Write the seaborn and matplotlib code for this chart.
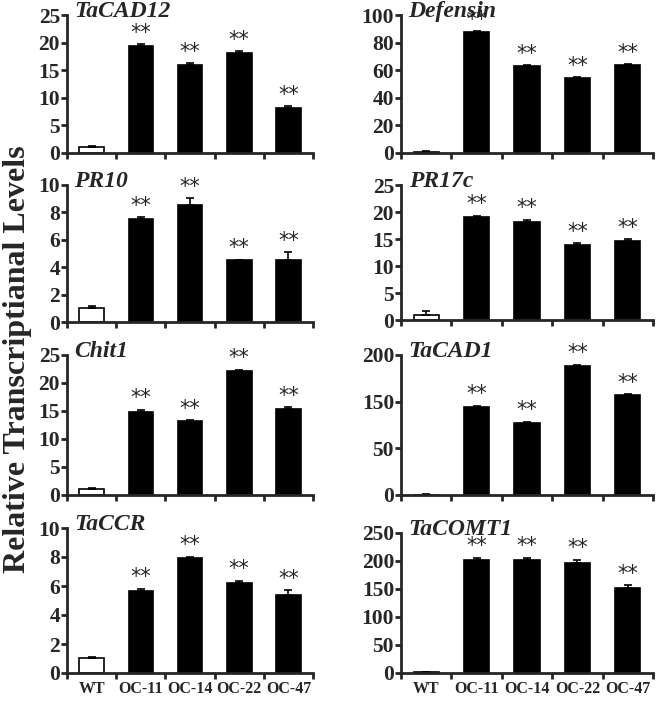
import numpy as np
import pandas as pd
import matplotlib
matplotlib.use("Agg")
import matplotlib.pyplot as plt
import seaborn as sns

sns.set_style("ticks")
plt.rcParams['font.family'] = ['Liberation Serif', 'DejaVu Serif']
plt.rcParams['font.weight'] = 'bold'

lines = ["WT", "OC-11", "OC-14", "OC-22", "OC-47"]

# gene panels, in reading order (left->right, top->bottom)
genes = ["TaCAD12", "Defensin", "PR10", "PR17c", "Chit1", "TaCAD1", "TaCCR", "TaCOMT1"]

tacad12 = [1.0, 19.3, 15.9, 18.2, 8.2]
tacad12_err = [0.25, 0.4, 0.4, 0.2, 0.3]
defensin = [1.0, 87.4, 62.8, 54.3, 63.5]
defensin_err = [0.3, 0.8, 0.8, 0.8, 0.8]
pr10 = [1.05, 7.55, 8.55, 4.5, 4.55]
pr10_err = [0.15, 0.08, 0.5, 0.05, 0.55]
pr17c = [1.0, 19.0, 18.2, 13.8, 14.6]
pr17c_err = [0.6, 0.3, 0.4, 0.4, 0.4]
chit1 = [1.0, 14.9, 13.2, 22.1, 15.4]
chit1_err = [0.2, 0.3, 0.15, 0.3, 0.3]
tacad1 = [0.5, 94.5, 77.5, 138.0, 107.0]
tacad1_err = [0.3, 1.2, 1.0, 1.5, 1.0]
taccr = [1.02, 5.65, 7.9, 6.2, 5.4]
taccr_err = [0.08, 0.15, 0.12, 0.15, 0.3]
tacomt1 = [2.0, 201.0, 201.0, 197.0, 152.0]
tacomt1_err = [0.5, 5.0, 5.0, 5.0, 5.0]

values = [tacad12, defensin, pr10, pr17c, chit1, tacad1, taccr, tacomt1]
errors = [tacad12_err, defensin_err, pr10_err, pr17c_err, chit1_err, tacad1_err, taccr_err, tacomt1_err]

ticks = [[0, 5, 10, 15, 20, 25], [0, 20, 40, 60, 80, 100], [0, 2, 4, 6, 8, 10], [0, 5, 10, 15, 20, 25],
         [0, 5, 10, 15, 20, 25], [0, 50, 100, 150], [0, 2, 4, 6, 8, 10], [0, 50, 100, 150, 200, 250]]
# TaCAD1 axis is labelled 0, 50, 150, 200 in the original figure
tick_labels = [None, None, None, None, None, ["0", "50", "150", "200"], None, None]

# axes boxes in pixels: (left, top, right, bottom)
W, H = 666, 701
boxes = [(67, 15, 313, 153), (401, 15, 653, 153),
         (67, 185, 313, 322), (401, 185, 653, 320),
         (67, 355, 313, 495), (401, 355, 653, 495),
         (67, 528, 313, 673), (401, 533, 653, 673)]

fig = plt.figure(figsize=(6.66, 7.01), dpi=100)
palette = {"WT": "white", "OC-11": "black", "OC-14": "black", "OC-22": "black", "OC-47": "black"}

for i, gene in enumerate(genes):
    l, t, r, b = boxes[i]
    ax = fig.add_axes([l / W, 1 - b / H, (r - l) / W, (b - t) / H])
    df = pd.DataFrame({"line": lines, "value": values[i]})
    sns.barplot(data=df, x="line", y="value", hue="line", palette=palette, legend=False,
                edgecolor="black", linewidth=1.2, width=0.5, ax=ax)
    err = np.array(errors[i])
    ax.errorbar(range(5), values[i], yerr=[np.zeros(5), err], fmt="none",
                ecolor="black", elinewidth=1.2, capsize=3, capthick=1.2)
    top = ticks[i][-1]
    for j in range(1, 5):
        ax.text(j, values[i][j] + err[j] + top * 0.01, "**", ha="center", va="bottom",
                fontsize=15, family="DejaVu Sans", fontweight="normal")
    ax.set_xlim(-0.5, 4.5)
    ax.set_ylim(0, top)
    ax.set_yticks(ticks[i])
    if tick_labels[i] is not None:
        ax.set_yticklabels(tick_labels[i])
    ax.set_xticks([-0.5, 0.5, 1.5, 2.5, 3.5, 4.5])
    ax.set_xticks(range(5), minor=True)
    ax.set_xticklabels([])
    if i >= 6:
        ax.set_xticklabels(lines, minor=True)
    ax.tick_params(axis="x", which="minor", length=0, labelsize=11.5, pad=6)
    ax.tick_params(axis="x", which="major", length=4, width=2, direction="out")
    ax.tick_params(axis="y", length=4, width=2, direction="out", labelsize=15.5, pad=1)
    for lab in ax.get_yticklabels() + ax.get_xticklabels(minor=True):
        lab.set_fontweight("bold")
    ax.set_xlabel("")
    ax.set_ylabel("")
    sns.despine(ax=ax)
    for s in ["left", "bottom"]:
        ax.spines[s].set_linewidth(2)
    ax.text(0.03, 1.025, gene, transform=ax.transAxes, ha="left", va="center",
            fontsize=17, fontstyle="italic", fontweight="bold")

fig.text(0.027, 0.488, "Relative Transcriptianal Levels", rotation=90, ha="center", va="center",
         fontsize=23, fontweight="bold")

fig.savefig("out.png", dpi=100)
